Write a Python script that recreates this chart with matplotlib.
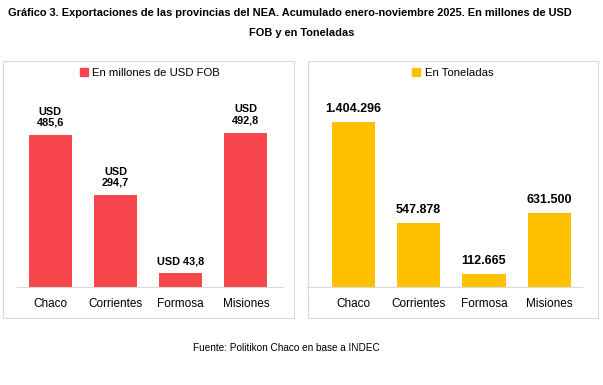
import matplotlib.pyplot as plt
from matplotlib.patches import Rectangle, Patch

provincias = ["Chaco", "Corrientes", "Formosa", "Misiones"]
usd_fob = [485.6, 294.7, 43.8, 492.8]
usd_labels = ["USD\n485,6", "USD\n294,7", "USD 43,8", "USD\n492,8"]
toneladas = [1404296, 547878, 112665, 631500]
ton_labels = ["1.404.296", "547.878", "112.665", "631.500"]

red = "#F8474C"
yellow = "#FFC000"
plt.rcParams["font.family"] = ["Liberation Sans", "DejaVu Sans"]

W, H = 603, 385
fig = plt.figure(figsize=(W / 100, H / 100), dpi=100)


def px(x0, y0, x1, y1):
    # pixel box (top-left origin) -> figure fraction rect
    return [x0 / W, 1 - y1 / H, (x1 - x0) / W, (y1 - y0) / H]


# panel frames
for x0, x1 in [(3, 294), (308, 598)]:
    fig.patches.append(Rectangle((x0 / W, 1 - 318 / H), (x1 - x0) / W, (318 - 61) / H,
                                 transform=fig.transFigure, fill=False,
                                 edgecolor="#D9D9D9", linewidth=0.8))

fig.text(8 / W, 1 - 13 / H, "Gráfico 3. Exportaciones de las provincias del NEA. Acumulado enero-noviembre 2025. En millones de USD",
         ha="left", va="center", fontsize=7.95, fontweight="bold")
fig.text(0.5, 1 - 33 / H, "FOB y en Toneladas", ha="center", va="center",
         fontsize=7.95, fontweight="bold")
fig.text(286 / W, 1 - 348 / H, "Fuente: Politikon Chaco en base a INDEC", ha="center", va="center",
         fontsize=7.2)


def panel(rect, values, labels, color, ymax, xlim, legend_text, legend_x, fs):
    ax = fig.add_axes(rect)
    x = range(len(provincias))
    ax.bar(x, values, width=0.66, color=color)
    for xi, v, lab in zip(x, values, labels):
        ax.annotate(lab, (xi, v), xytext=(0, 5), textcoords="offset points",
                    ha="center", va="bottom", fontsize=fs, fontweight="bold",
                    linespacing=1.15)
    ax.set_ylim(0, ymax)
    ax.set_xlim(*xlim)
    ax.set_xticks(list(x))
    ax.set_xticklabels(provincias, fontsize=8.5)
    ax.tick_params(axis="x", length=0, pad=8)
    ax.set_yticks([])
    for s in ["top", "right", "left"]:
        ax.spines[s].set_visible(False)
    ax.spines["bottom"].set_color("#D9D9D9")
    ax.spines["bottom"].set_linewidth(0.8)
    ax.set_facecolor("none")
    fig.legend(handles=[Patch(color=color, label=legend_text)], loc="center",
               bbox_to_anchor=(legend_x / W, 1 - 73 / H), frameon=False,
               fontsize=8.2, handlelength=0.7, handleheight=0.7, handletextpad=0.4)
    return ax


panel(px(17, 99, 283, 287), usd_fob, usd_labels, red, 600, (-0.51, 3.57),
      "En millones de USD FOB", 150, 7.8)
panel(px(307, 99, 582, 287), toneladas, ton_labels, yellow, 1.6e6, (-0.71, 3.5),
      "En Toneladas", 453, 9)

fig.savefig("out.png", dpi=100)
